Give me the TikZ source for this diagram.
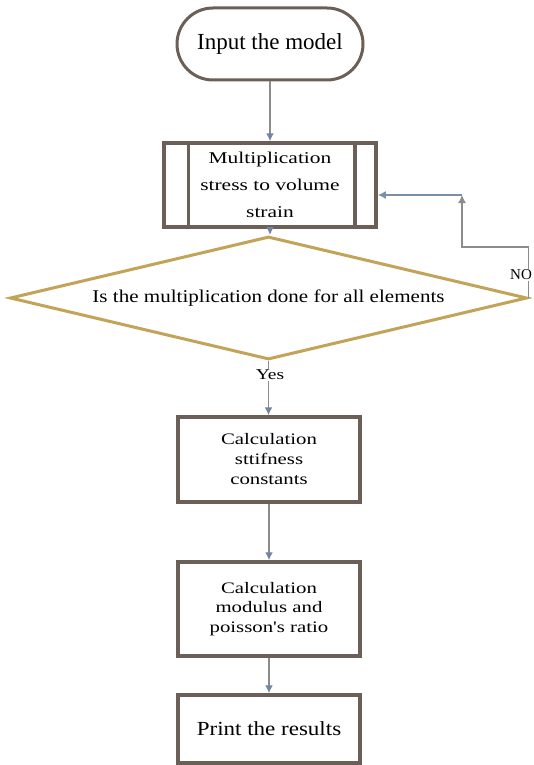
\documentclass[tikz,border=0pt]{standalone}
\usepackage{fontspec}
\setmainfont{Liberation Serif}
\newfontfamily\boxfont[FakeStretch=1.3]{Liberation Serif}
\newfontfamily\dfont[FakeStretch=1.17]{Liberation Serif}
\newfontfamily\pfont[FakeStretch=1.15]{Liberation Serif}
\usetikzlibrary{shapes.geometric,arrows.meta,calc}
\definecolor{boxc}{HTML}{6B5F57}
\definecolor{arrc}{HTML}{8C8C8C}
\definecolor{tipc}{HTML}{7383A0}
\definecolor{dia}{HTML}{C2A458}
\definecolor{bluel}{HTML}{7890A8}
\begin{document}
\begin{tikzpicture}[x=1pt,y=1pt,
  procbox/.style={draw=boxc,line width=3.5pt,fill=white,inner sep=0pt,align=center},
  term/.style={draw=boxc,line width=3pt,fill=white,rounded corners=36pt,inner sep=0pt},
  decision/.style={draw=dia,line width=3pt,fill=white,diamond,inner sep=0pt},
  flow/.style={draw=arrc,line width=1.8pt,-{Latex[length=8pt,width=8pt,color=tipc]}},
  loopl/.style={draw=arrc,line width=1.4pt},
  bluearr/.style={draw=bluel,line width=1.8pt,-{Latex[length=8pt,width=8pt,color=bluel]}},
  lbl/.style={fill=white,inner sep=1pt}]
\useasboundingbox (0,0) rectangle (534,-765);
\fill[white] (0,0) rectangle (534,-765);

\node[term,minimum width=186pt,minimum height=72pt,font={\fontsize{23}{27}\selectfont}] (t) at (270,-44)
  {Input the model};
\node[procbox,minimum width=212pt,minimum height=84pt,font={\boxfont\fontsize{16.5}{27}\selectfont}] (m) at (270,-185)
  {Multiplication\\ stress to volume\\ strain};
\draw[boxc,line width=3.5pt] ($(m.north west)+(26,0)$) -- ($(m.south west)+(26,0)$);
\draw[boxc,line width=3.5pt] ($(m.north east)+(-23,0)$) -- ($(m.south east)+(-23,0)$);
\node[decision,minimum width=517pt,minimum height=123pt,aspect=4.2,font={\dfont\fontsize{18}{22}\selectfont}] (d) at (268.5,-298)
  {Is the multiplication done for all elements};
\node[procbox,minimum width=182pt,minimum height=85pt,font={\boxfont\fontsize{16}{20}\selectfont}] (s) at (269,-459.5)
  {Calculation\\ sttifness\\ constants};
\node[procbox,minimum width=182pt,minimum height=94pt,font={\boxfont\fontsize{16}{19.5}\selectfont}] (c) at (269,-609)
  {Calculation\\ modulus and\\ poisson's ratio};
\node[procbox,minimum width=182pt,minimum height=68pt,font={\pfont\fontsize{20}{24}\selectfont}] (p) at (269,-729)
  {Print the results};

\draw[flow] (t.south) -- (t.south |- m.north);
\draw[flow] (m.south) -- (m.south |- d.north);
\draw[flow] (d.south) -- (d.south |- s.north);
\node[lbl,font={\boxfont\fontsize{15}{18}\selectfont}] (yes) at (270,-375) {Yes};
\draw[flow] (s.south) -- (s.south |- c.north);
\draw[flow] (c.south) -- (c.south |- p.north);

\coordinate (c1) at (462,-247);
\coordinate (c2) at (462,-195);
\draw[loopl,-{Latex[length=8pt,width=8pt,color=arrc]}] (d.east) |- (c1) -- (c2);
\node[lbl,font={\fontsize{15}{18}\selectfont}] (no) at (521,-275) {NO};
\draw[bluearr] (c2) -- (m.east |- c2);
\end{tikzpicture}
\end{document}
